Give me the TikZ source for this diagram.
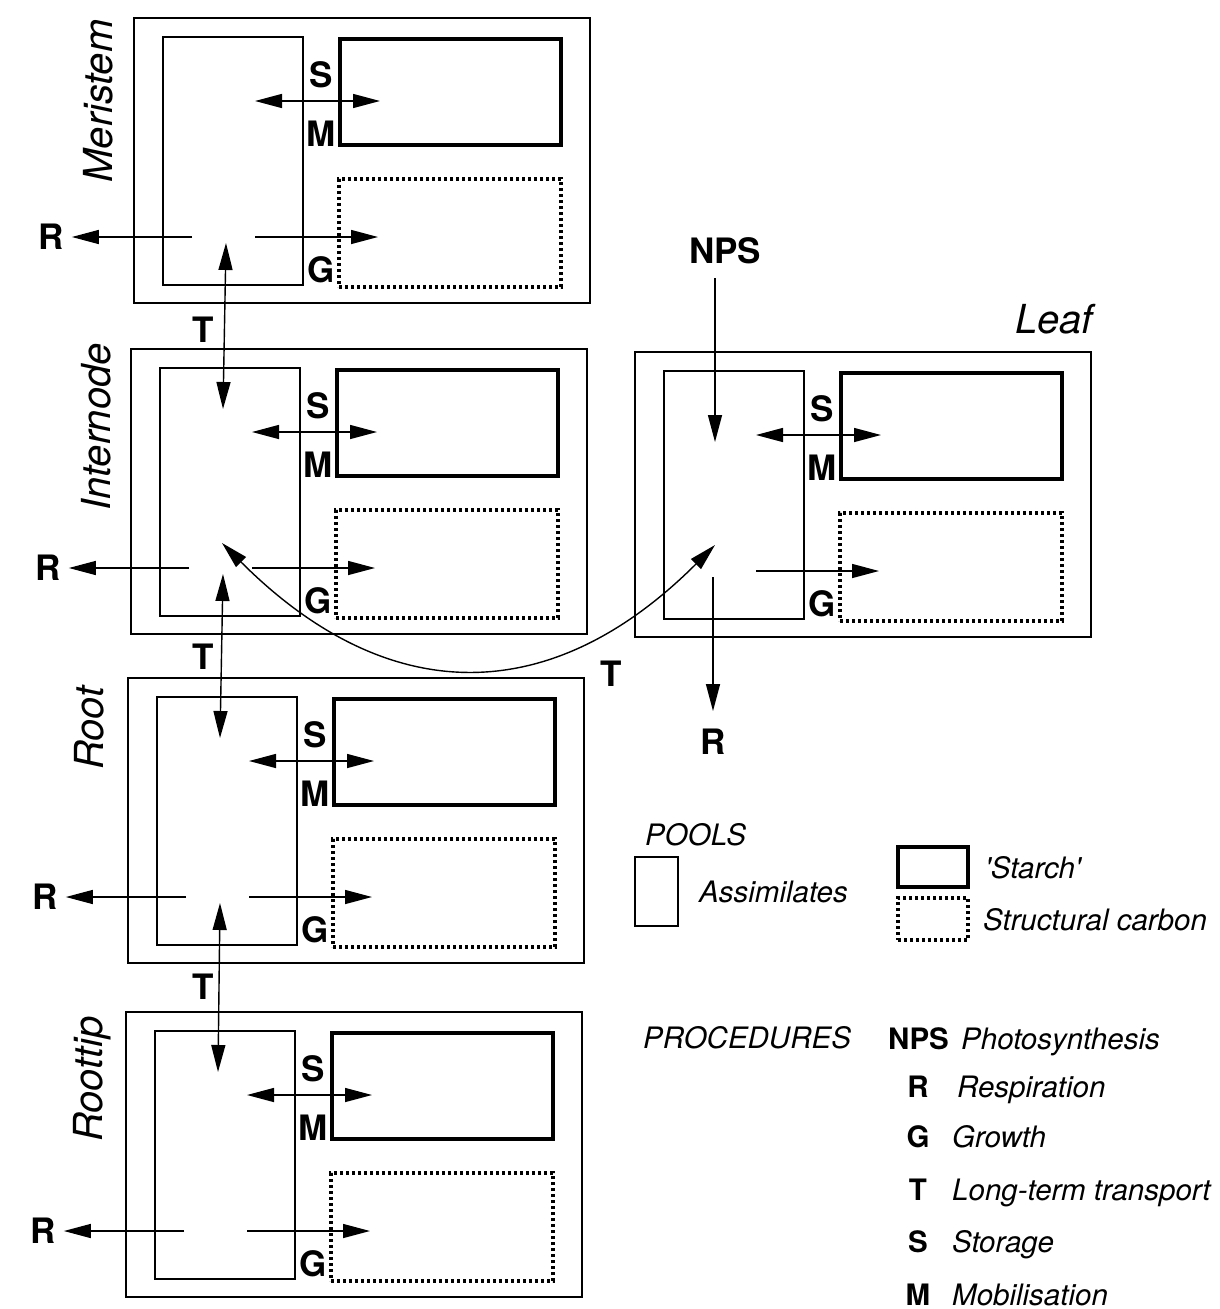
\documentclass[tikz,border=0pt]{standalone}
\usepackage{fontspec}
\setmainfont{TeX Gyre Heros}
\usetikzlibrary{arrows.meta}

\tikzset{
  boxbase/.style={draw, inner sep=0pt, outer sep=0pt, anchor=north west},
  outerbox/.style={boxbase, line width=2.4pt, minimum width=456pt, minimum height=285pt},
  assimbox/.style={boxbase, line width=1.3pt, minimum width=140pt, minimum height=248pt},
  starchbox/.style={boxbase, line width=4pt, minimum width=221pt, minimum height=106pt},
  structbox/.style={boxbase, line width=3.2pt, dash pattern=on 3pt off 3pt, minimum width=222pt, minimum height=108pt},
  blab/.style={font=\fontsize{35}{41}\selectfont\bfseries, inner sep=0pt},
  ilab/.style={font=\fontsize{40}{46}\selectfont\itshape, inner sep=0pt},
  legt/.style={font=\fontsize{29.5}{35}\selectfont\itshape, inner sep=0pt, anchor=base west},
  legb/.style={font=\fontsize{29.5}{35}\selectfont\bfseries, inner sep=0pt, anchor=base},
  tip/.style={Triangle[length=27pt,width=14pt]},
  arr/.style={line width=1.4pt, -{Triangle[length=27pt,width=14pt]}},
  dbl/.style={line width=1.4pt, {Triangle[length=27pt,width=14pt]}-{Triangle[length=27pt,width=14pt]}},
}

% #1 prefix, #2 x, #3 y of the outer box's top-left corner
\newcommand\plantblock[3]{%
  \begin{scope}[shift={(#2,#3)}]
    \node[outerbox]  (#1out) at (0,0) {};
    \node[assimbox]  (#1asm) at (29,19) {};
    \node[starchbox] (#1sta) at (206,21) {};
    \node[structbox] (#1str) at (205,161) {};
    \node[blab] (#1S) at (187,57) {S};
    \node[blab] (#1M) at (187,116) {M};
    \node[blab] (#1G) at (187,252) {G};
    \coordinate (#1sa) at (121,83);
    \coordinate (#1sb) at (246,83);
    \coordinate (#1ga) at (121,219);
    \coordinate (#1gb) at (244,219);
    \coordinate (#1tu) at (92,225);
    \coordinate (#1td) at (92,60);
    \draw[dbl] (#1sa) -- (#1sb);
    \draw[arr] (#1ga) -- (#1gb);
  \end{scope}}

% respiration arrow to the left of a stem block
\newcommand\resparrow[3]{%
  \begin{scope}[shift={(#2,#3)}]
    \coordinate (#1ra) at (58,219);
    \node[blab] (#1R) at (-83,219) {R};
    \draw[arr, shorten >=8pt] (#1ra) -- (#1R.east);
  \end{scope}}

\begin{document}
\begin{tikzpicture}[x=1pt,y=-1pt]
  \useasboundingbox (0,0) rectangle (1219,1309);

  % stem blocks
  \plantblock{mer}{134}{18}
  \plantblock{int}{131}{349}
  \plantblock{roo}{128}{678}
  \plantblock{tip}{126}{1012}
  \resparrow{mer}{134}{18}
  \resparrow{int}{131}{349}
  \resparrow{roo}{128}{678}
  \resparrow{tip}{126}{1012}

  % block names
  \node[ilab, rotate=90, anchor=base] (merlab) at (112,101) {Meristem};
  \node[ilab, rotate=90, anchor=base] (intlab) at (110,427) {Internode};
  \node[ilab, rotate=90, anchor=base] (roolab) at (103,728) {Root};
  \node[ilab, rotate=90, anchor=base] (tiplab) at (102,1079) {Roottip};

  % long-term transport along the stem
  \draw[dbl] (mertu) -- (inttd);
  \draw[dbl] (inttu) -- (rootd);
  \draw[dbl] (rootu) -- (tiptd);
  \node[blab] (t1) at (203,330) {T};
  \node[blab] (t2) at (203,657) {T};
  \node[blab] (t3) at (203,987) {T};

  % leaf
  \plantblock{lea}{635}{352}
  \node[ilab, anchor=base] (lealab) at (1054,333) {Leaf};
  \node[blab, anchor=base] (nps) at (725,263) {NPS};
  \coordinate (npsa) at (715,278);
  \coordinate (npsb) at (715,442);
  \draw[arr] (npsa) -- (npsb);
  \coordinate (lra) at (713,577);
  \node[blab] (leaR) at (713,742) {R};
  \draw[arr, shorten >=18pt] (lra) -- (leaR.north);

  % transport between internode and leaf
  \coordinate (intcv) at (222,543);
  \coordinate (leacv) at (715,545);
  \draw[dbl] (intcv) .. controls (388,709) and (551,709) .. (leacv);
  \node[blab] (t4) at (611,674) {T};

  % legend: pools
  \node[legt] (pools) at (645,845) {POOLS};
  \node[boxbase, line width=1.3pt, minimum width=43pt, minimum height=69pt] (lgasm) at (635,857) {};
  \node[legt] (lgasmt) at (699,902) {Assimilates};
  \node[boxbase, line width=4pt, minimum width=70pt, minimum height=40pt] (lgsta) at (898,847) {};
  \node[legt] (lgstat) at (985,878) {\textquotesingle Starch\textquotesingle};
  \node[boxbase, line width=3.2pt, dash pattern=on 3pt off 3pt, minimum width=70pt, minimum height=42pt] (lgstr) at (898,898) {};
  \node[legt] (lgstrt) at (983,930) {Structural carbon};

  % legend: procedures
  \node[legt] (proc) at (643,1048) {PROCEDURES};
  \node[legb, anchor=base west] (lnps) at (888,1049) {NPS};
  \node[legt] (lnpst) at (961,1049) {Photosynthesis};
  \node[legb] (lr) at (918,1097) {R};
  \node[legt] (lrt) at (957,1097) {Respiration};
  \node[legb] (lg) at (918,1147) {G};
  \node[legt] (lgt) at (952,1147) {Growth};
  \node[legb] (lt) at (918,1200) {T};
  \node[legt] (ltt) at (952,1200) {Long-term transport};
  \node[legb] (ls) at (918,1252) {S};
  \node[legt] (lst) at (952,1252) {Storage};
  \node[legb] (lm) at (918,1305) {M};
  \node[legt] (lmt) at (952,1305) {Mobilisation};
\end{tikzpicture}
\end{document}
